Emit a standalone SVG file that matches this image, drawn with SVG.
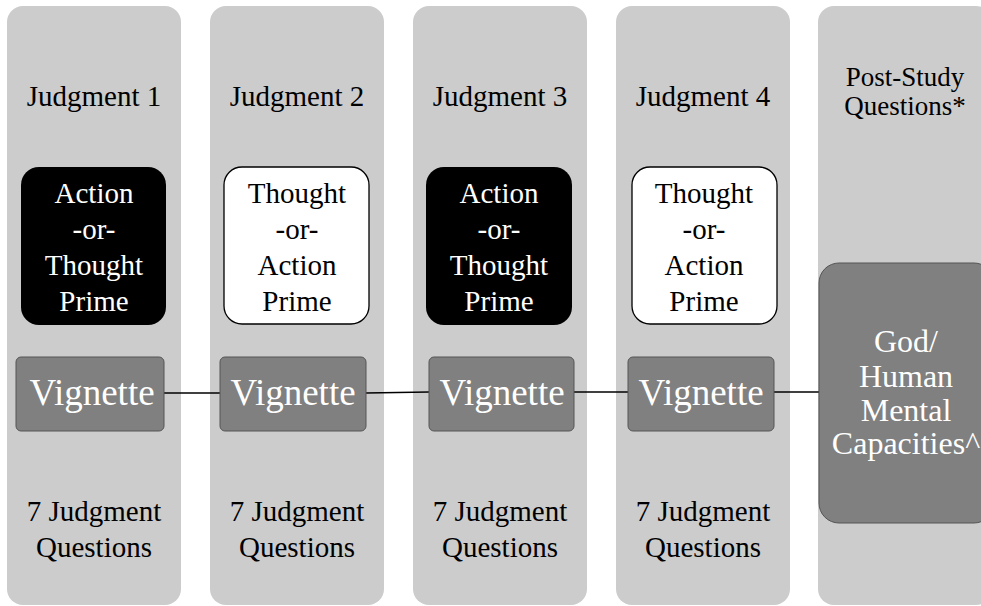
<svg xmlns="http://www.w3.org/2000/svg" width="981" height="606" viewBox="0 0 981 606">
<style>
text{font-family:"Liberation Serif", "Times New Roman", Times, serif}
.col{fill:#cccccc}
.pb{fill:#000000}
.pw{fill:#ffffff;stroke:#000000;stroke-width:1.3}
.vg{fill:#808080;stroke:#555555;stroke-width:1}
.t{font-size:29px;text-anchor:middle;fill:#000}
.ts{font-size:27px;text-anchor:middle;fill:#000}
.tw{font-size:29px;text-anchor:middle;fill:#fff}
.tv{font-size:37px;text-anchor:middle;fill:#fff}
.tg{font-size:32px;text-anchor:middle;fill:#fff}
.c{stroke:#000;stroke-width:1.3;fill:none}
</style>
<rect width="981" height="606" fill="#ffffff"/>
<g id="columns">
<rect id="col1" class="col" x="7" y="6" width="174" height="599" rx="16"/>
<rect id="col2" class="col" x="210" y="6" width="174" height="599" rx="16"/>
<rect id="col3" class="col" x="413" y="6" width="174" height="599" rx="16"/>
<rect id="col4" class="col" x="616" y="6" width="174" height="599" rx="16"/>
<rect id="col5" class="col" x="818" y="6" width="174" height="599" rx="16"/>
</g>
<g id="connectors">
<line class="c" x1="164" y1="393" x2="220" y2="393"/>
<line class="c" x1="366" y1="393" x2="429" y2="392"/>
<line class="c" x1="574" y1="392" x2="628" y2="392"/>
<line class="c" x1="774" y1="392" x2="819" y2="392"/>
</g>
<g id="judgment1">
<text class="t" x="94" y="106">Judgment 1</text>
</g>
<g id="prime1">
<rect class="pb" x="21" y="167" width="145" height="158" rx="18"/>
<text class="tw" x="94" y="203">Action</text>
<text class="tw" x="94" y="239">-or-</text>
<text class="tw" x="94" y="275">Thought</text>
<text class="tw" x="94" y="311">Prime</text>
</g>
<g id="vignette1">
<rect class="vg" x="16" y="357" width="148" height="74" rx="5"/>
<text class="tv" x="92" y="405">Vignette</text>
</g>
<g id="questions1">
<text class="t" x="94" y="521">7 Judgment</text>
<text class="t" x="94" y="557">Questions</text>
</g>
<g id="judgment2">
<text class="t" x="297" y="106">Judgment 2</text>
</g>
<g id="prime2">
<rect class="pw" x="224" y="167" width="145" height="157" rx="18"/>
<text class="t" x="297" y="203">Thought</text>
<text class="t" x="297" y="239">-or-</text>
<text class="t" x="297" y="275">Action</text>
<text class="t" x="297" y="311">Prime</text>
</g>
<g id="vignette2">
<rect class="vg" x="220" y="357" width="146" height="74" rx="5"/>
<text class="tv" x="293" y="405">Vignette</text>
</g>
<g id="questions2">
<text class="t" x="297" y="521">7 Judgment</text>
<text class="t" x="297" y="557">Questions</text>
</g>
<g id="judgment3">
<text class="t" x="500" y="106">Judgment 3</text>
</g>
<g id="prime3">
<rect class="pb" x="426" y="167" width="146" height="158" rx="18"/>
<text class="tw" x="499" y="203">Action</text>
<text class="tw" x="499" y="239">-or-</text>
<text class="tw" x="499" y="275">Thought</text>
<text class="tw" x="499" y="311">Prime</text>
</g>
<g id="vignette3">
<rect class="vg" x="429" y="357" width="145" height="74" rx="5"/>
<text class="tv" x="502" y="405">Vignette</text>
</g>
<g id="questions3">
<text class="t" x="500" y="521">7 Judgment</text>
<text class="t" x="500" y="557">Questions</text>
</g>
<g id="judgment4">
<text class="t" x="703" y="106">Judgment 4</text>
</g>
<g id="prime4">
<rect class="pw" x="632" y="167" width="145" height="157" rx="18"/>
<text class="t" x="704" y="203">Thought</text>
<text class="t" x="704" y="239">-or-</text>
<text class="t" x="704" y="275">Action</text>
<text class="t" x="704" y="311">Prime</text>
</g>
<g id="vignette4">
<rect class="vg" x="628" y="357" width="146" height="74" rx="5"/>
<text class="tv" x="701" y="405">Vignette</text>
</g>
<g id="questions4">
<text class="t" x="703" y="521">7 Judgment</text>
<text class="t" x="703" y="557">Questions</text>
</g>
<g id="poststudy">
<text class="ts" x="905" y="86">Post-Study</text>
<text class="ts" x="905" y="115">Questions*</text>
</g>
<g id="mental">
<rect class="vg" x="819" y="263" width="175" height="260" rx="20"/>
<text class="tg" x="906" y="352">God/</text>
<text class="tg" x="906" y="387">Human</text>
<text class="tg" x="906" y="421">Mental</text>
<text class="tg" x="906" y="454">Capacities^</text>
</g>
</svg>
